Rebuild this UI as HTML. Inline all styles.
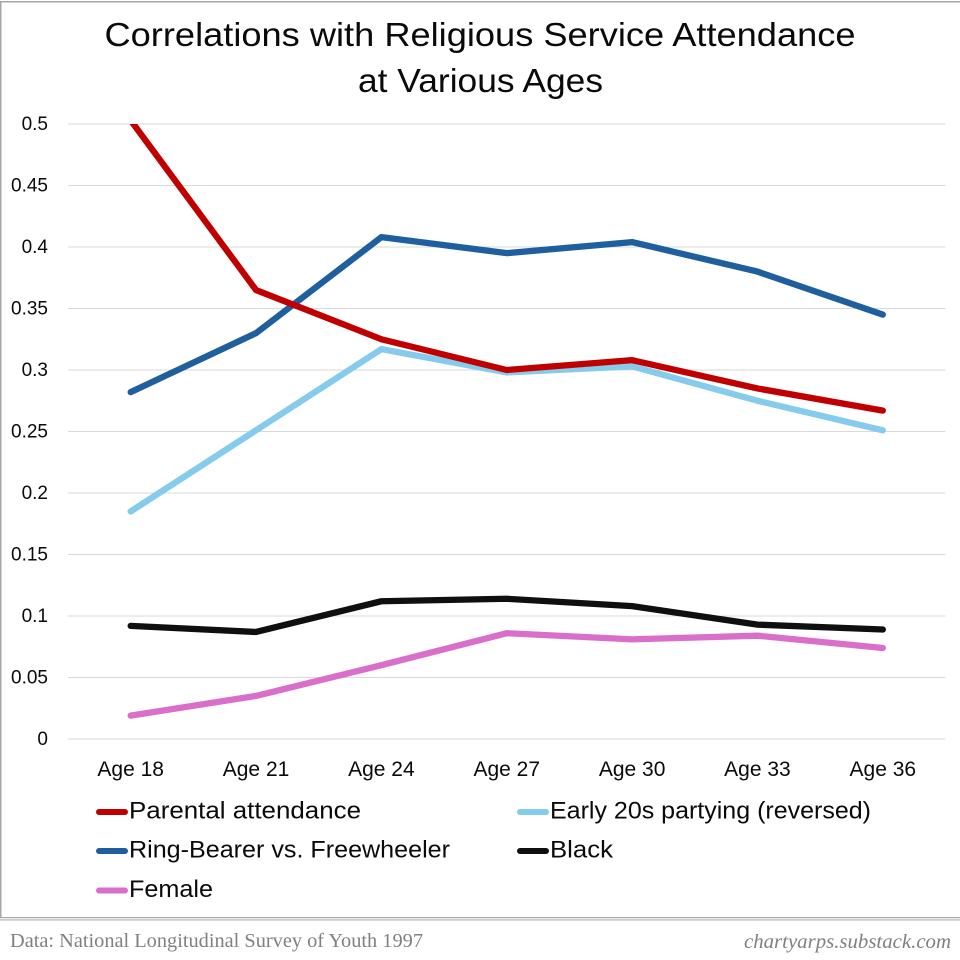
<!DOCTYPE html>
<html>
<head>
<meta charset="utf-8">
<style>
html,body{margin:0;padding:0;background:#fff;width:960px;height:960px;overflow:hidden}
svg{display:block}
text{font-family:"Liberation Sans",sans-serif;fill:#0a0a0a}
.foot{font-family:"Liberation Serif",serif;fill:#808080}
</style>
</head>
<body>
<svg id="chart" width="960" height="960" viewBox="0 0 960 960" xmlns="http://www.w3.org/2000/svg">
<defs><clipPath id="plot-clip"><rect x="60" y="124" width="900" height="640"/></clipPath></defs>
<rect x="0" y="0" width="960" height="960" fill="#fff"/>
<rect x="0" y="1" width="960" height="1.5" fill="#a6a6a6"/>
<rect x="0" y="1" width="1.5" height="917" fill="#a6a6a6"/>
<rect x="0" y="917" width="960" height="1.2" fill="#a6a6a6"/>
<rect x="0" y="919.3" width="960" height="1.2" fill="#b4b4b4"/>
<text x="480" y="46" text-anchor="middle" font-size="33" textLength="751" lengthAdjust="spacingAndGlyphs">Correlations with Religious Service Attendance</text>
<text x="480.5" y="92" text-anchor="middle" font-size="33" textLength="245" lengthAdjust="spacingAndGlyphs">at Various Ages</text>
<g id="grid"></g>
<g id="yticks"></g>
<g id="xticks"></g>
<g id="lines" clip-path="url(#plot-clip)"></g>
<g id="legend"></g>
<text class="foot" x="10" y="947" font-size="19.5" textLength="413" lengthAdjust="spacingAndGlyphs">Data: National Longitudinal Survey of Youth 1997</text>
<text class="foot" x="744" y="948" font-size="20" font-style="italic" textLength="207" lengthAdjust="spacingAndGlyphs">chartyarps.substack.com</text>
</svg>
<script>
const categories = ["Age 18","Age 21","Age 24","Age 27","Age 30","Age 33","Age 36"];
const yTickValues = [0,0.05,0.1,0.15,0.2,0.25,0.3,0.35,0.4,0.45,0.5];
const yTickLabels = ["0","0.05","0.1","0.15","0.2","0.25","0.3","0.35","0.4","0.45","0.5"];
const parentalAttendance = [0.503,0.365,0.325,0.300,0.308,0.285,0.267];
const ringBearer = [0.282,0.330,0.408,0.395,0.404,0.380,0.345];
const earlyPartying = [0.185,0.251,0.317,0.298,0.303,0.275,0.251];
const blackValues = [0.092,0.087,0.112,0.114,0.108,0.093,0.089];
const femaleValues = [0.019,0.035,0.060,0.086,0.081,0.084,0.074];

const svgNS = "http://www.w3.org/2000/svg";
const plotLeft = 68, plotRight = 945.5, plotTop = 124, plotBottom = 739, yMax = 0.5;
function xPos(i){ return plotLeft + (plotRight - plotLeft) * (i + 0.5) / categories.length; }
function yPos(v){ return plotBottom - (plotBottom - plotTop) * v / yMax; }
function mk(tag, parent, attrs){
  const el = document.createElementNS(svgNS, tag);
  for (const k in attrs) el.setAttribute(k, attrs[k]);
  parent.appendChild(el);
  return el;
}
const grid = document.getElementById('grid');
const yticks = document.getElementById('yticks');
const xticks = document.getElementById('xticks');
const linesG = document.getElementById('lines');
const legendG = document.getElementById('legend');

yTickValues.forEach(function(v, i){
  const y = yPos(v);
  const g = mk('line', grid, {x1: plotLeft, x2: plotRight, y1: y, y2: y, stroke: '#d9d9d9', 'stroke-width': 1});
  
  
  const t = mk('text', yticks, {x: 48, y: y + 6, 'text-anchor': 'end', 'font-size': 19});
  
  
  t.textContent = yTickLabels[i];
});
categories.forEach(function(c, i){
  const t = mk('text', xticks, {x: xPos(i), y: 776, 'text-anchor': 'middle', 'font-size': 21});
  
  
  t.textContent = c;
});
function drawSeries(values, color, name){
  const pts = values.map(function(v, i){ return xPos(i) + ',' + yPos(v); }).join(' ');
  const p = mk('polyline', linesG, {points: pts, fill: 'none', stroke: color, 'stroke-width': 6.3, 'stroke-linecap': 'round', 'stroke-linejoin': 'round'});
  
  
}
drawSeries(femaleValues, '#d96fcb', 'series-female');
drawSeries(blackValues, '#0f0f0f', 'series-black');
drawSeries(earlyPartying, '#84cbec', 'series-early-20s-partying');
drawSeries(ringBearer, '#1f5f9e', 'series-ring-bearer');
drawSeries(parentalAttendance, '#c00000', 'series-parental-attendance');

function drawLegend(x0, y, color, label, width){
  const l = mk('line', legendG, {x1: x0, x2: x0 + 26, y1: y, y2: y, stroke: color, 'stroke-width': 6, 'stroke-linecap': 'round'});
  
  
  const t = mk('text', legendG, {x: x0 + 30, y: y + 6.5, 'font-size': 24, textLength: width, lengthAdjust: 'spacingAndGlyphs'});
  
  
  t.textContent = label;
}
drawLegend(99, 812, '#c00000', 'Parental attendance', 232);
drawLegend(99, 851, '#1f5f9e', 'Ring-Bearer vs. Freewheeler', 321);
drawLegend(99, 890.5, '#d96fcb', 'Female', 84);
drawLegend(520, 812, '#84cbec', 'Early 20s partying (reversed)', 321);
drawLegend(520, 851, '#0f0f0f', 'Black', 63);
</script>
</body>
</html>
